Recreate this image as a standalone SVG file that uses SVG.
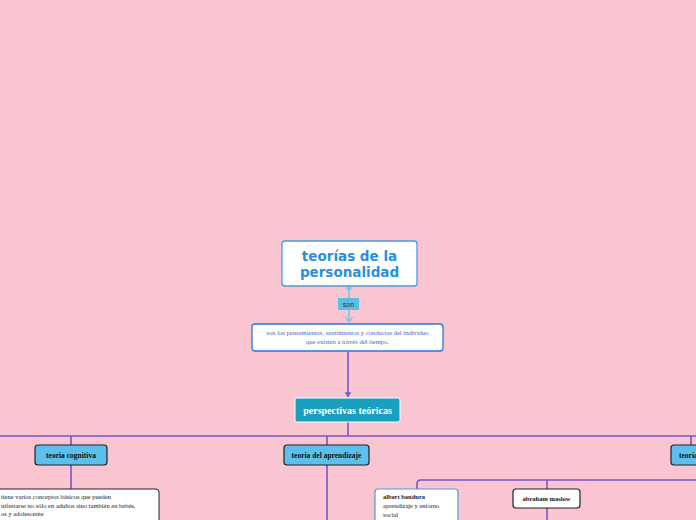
<svg xmlns="http://www.w3.org/2000/svg" width="696" height="520" viewBox="0 0 696 520">
<style>
.ln{fill:none;stroke:#7a55c8;stroke-width:1.6}
.tb{fill:#5bc0eb;stroke:#222;stroke-width:1.2}
.tt{font-family:"Liberation Serif",serif;font-size:7.5px;font-weight:bold;fill:#111;text-anchor:middle}
.st{font-family:"Liberation Serif",serif;font-size:6.5px;fill:#222}
</style>
<defs>
<marker id="ar" viewBox="0 0 10 10" refX="8" refY="5" markerWidth="8" markerHeight="8" orient="auto" markerUnits="userSpaceOnUse"><path d="M2,1 L8,5 L2,9 Z" fill="#7a55c8"/></marker>
<marker id="ab" viewBox="0 0 10 10" refX="8" refY="5" markerWidth="9" markerHeight="9" orient="auto" markerUnits="userSpaceOnUse"><path d="M2,1 L8,5 L2,9" fill="none" stroke="#7ac4ee" stroke-width="1.6"/></marker>
</defs>
<rect width="696" height="520" fill="#f8c5d1"/>
<g id="connectors">
<line x1="349" y1="288" x2="349" y2="322" stroke="#7ac4ee" stroke-width="1.6" marker-end="url(#ab)"/>
<circle cx="349" cy="288" r="2.5" fill="#7ac4ee"/>
<line class="ln" x1="348" y1="352" x2="348" y2="397" marker-end="url(#ar)"/>
<path class="ln" d="M348,422 V436 M0,436 H696 M71,436 V445 M71,465 V489 M327,436 V520 M691,436 V445 M417,489 V484 Q417,480 421,480 H696 M547,480 V489 M547,508 V520"/>
</g>
<g id="n-son">
<rect x="338" y="298" width="21" height="12" fill="#5bbde8"/>
<text x="348.5" y="307" font-family="Liberation Sans,sans-serif" font-size="7" fill="#234" text-anchor="middle">son</text>
</g>
<g id="n-title">
<rect x="282" y="241" width="135" height="45" rx="3" fill="#fff" stroke="#4a9be0" stroke-width="1.3"/>
<text x="349.5" y="261" font-family="DejaVu Sans,sans-serif" font-weight="bold" font-size="13.5" fill="#2a8fe0" text-anchor="middle">teorías de la</text>
<text x="349.5" y="277" font-family="DejaVu Sans,sans-serif" font-weight="bold" font-size="13.5" fill="#2a8fe0" text-anchor="middle">personalidad</text>
</g>
<g id="n-def">
<rect x="252" y="324" width="191" height="27" rx="3" fill="#fff" stroke="#2a7ad8" stroke-width="1.3"/>
<text x="347.5" y="335" font-family="Liberation Serif,serif" font-size="6.6" fill="#3a6ad0" text-anchor="middle">son los pensamientos, sentimientos y conductas del individuo</text>
<text x="347.5" y="344" font-family="Liberation Serif,serif" font-size="6.6" fill="#3a6ad0" text-anchor="middle">que existen a través del tiempo.</text>
</g>
<g id="n-persp">
<rect x="295" y="398" width="105" height="24" rx="2" fill="#1a9fbf" stroke="#fff" stroke-width="1"/>
<text x="347.5" y="414" font-family="Liberation Serif,serif" font-size="10" font-weight="bold" fill="#fff" text-anchor="middle">perspectivas teóricas</text>
</g>
<g id="n-cog">
<rect class="tb" x="35" y="445" width="72" height="20" rx="3"/>
<text class="tt" x="71" y="458">teoria cognitiva</text>
</g>
<g id="n-apr">
<rect class="tb" x="284" y="445" width="85" height="20" rx="3"/>
<text class="tt" x="326.5" y="458">teoria del aprendizaje</text>
</g>
<g id="n-right">
<rect class="tb" x="671" y="445" width="40" height="20" rx="3"/>
<text class="tt" x="679" y="458" style="text-anchor:start">teoria</text>
</g>
<g id="n-cogtext">
<rect x="-10" y="489" width="169" height="40" rx="3" fill="#fff" stroke="#222" stroke-width="1"/>
<text class="st" x="1" y="499">tiene varios conceptos básicos que pueden</text>
<text class="st" x="1" y="508">nifestarse no sólo en adultos sino también en bebés,</text>
<text class="st" x="1" y="516">os y adolescente</text>
</g>
<g id="n-bandura">
<rect x="375" y="489" width="83" height="40" rx="3" fill="#fff" stroke="#4a9be0" stroke-width="1.2"/>
<text class="st" x="383" y="499" font-weight="bold">albert bandura</text>
<text class="st" x="383" y="508">aprendizaje y entorno</text>
<text class="st" x="383" y="517">social</text>
</g>
<g id="n-maslow">
<rect x="513" y="489" width="67" height="19" rx="3" fill="#fff" stroke="#222" stroke-width="1.2"/>
<text class="tt" x="546.5" y="500.5" style="font-size:6.5px">abraham maslow</text>
</g>
</svg>
